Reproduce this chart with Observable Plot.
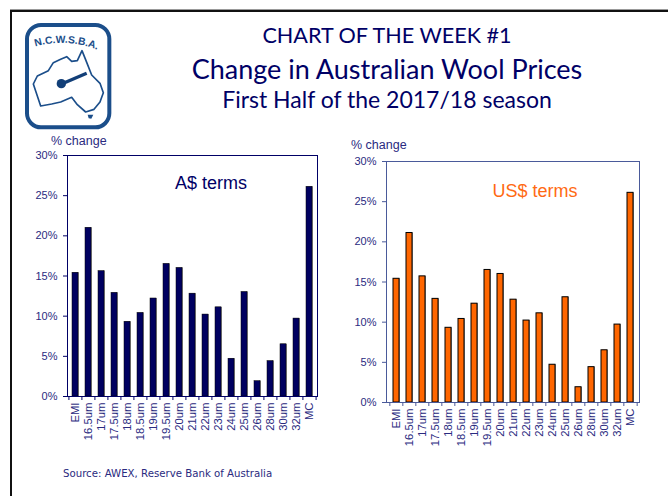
<!DOCTYPE html>
<html><head><meta charset="utf-8">
<script src="https://cdn.jsdelivr.net/npm/d3@7"></script>
<script src="https://cdn.jsdelivr.net/npm/@observablehq/plot@0.6"></script>
<style>
html,body{margin:0;padding:0;background:#fff;width:668px;height:496px;overflow:hidden}
#page{position:relative;width:668px;height:496px;overflow:hidden}
#border{position:absolute;left:10px;top:10px;width:700px;height:600px;border:2px solid #111;box-shadow:0 -1px 0 #999}
.t{position:absolute;left:0;width:774px;text-align:center;color:#000066;font-family:Lato,sans-serif;white-space:nowrap;line-height:1}
.s{position:absolute;font-family:"Liberation Sans",Arial,sans-serif;white-space:nowrap;line-height:1}
.p{position:absolute;top:0}
.p svg{display:block}
</style></head><body>
<div id="page">
<div id="border"></div>
<svg id="logo" style="position:absolute;left:20px;top:20px" width="95" height="115" viewBox="0 0 285 345">
  <rect x="21" y="15" width="247" height="307" rx="42" fill="#fff" stroke="#1b4e8a" stroke-width="12"/>
  <path id="arc" d="M46 80 Q150 50 252 98" fill="none"/>
  <text font-family="Liberation Sans,Arial,sans-serif" font-weight="bold" font-size="31" fill="#1b4e8a"><textPath href="#arc">N.C.W.S.B.A.</textPath></text>
  <path d="M40 192 L52 168 L85 152 L100 128 L122 118 L140 110 L155 124 L172 122 L186 92 L198 122 L215 165 L240 190 L250 218 L240 246 L222 268 L197 276 L172 254 L155 232 L122 246 L95 252 L62 258 L52 228 Z" fill="#fff" stroke="#1b4e8a" stroke-width="5" stroke-linejoin="round"/>
  <path d="M203 284 L220 284 L214 296 L206 295 Z" fill="#1b4e8a"/>
  <path d="M130 190 L200 160" stroke="#123f78" stroke-width="10" fill="none"/>
  <circle cx="124" cy="191" r="14" fill="#123f78"/>
</svg>
<div class="t" style="top:25px;font-size:21.6px">CHART OF THE WEEK #1</div>
<div class="t" style="top:55px;font-size:27px">Change in Australian Wool Prices</div>
<div class="t" style="top:88px;font-size:23px">First Half of the 2017/18 season</div>
<div id="left" class="p" style="left:0"></div>
<div id="right" class="p" style="left:334px"></div>
<div class="s" style="left:51px;top:135px;font-size:12.5px;color:#2a2a80">% change</div>
<div class="s" style="left:351px;top:139px;font-size:12.5px;color:#2a2a80">% change</div>
<div class="s" style="left:175px;top:174px;font-size:18px;color:#000066">A$ terms</div>
<div class="s" style="left:492.5px;top:182px;font-size:18px;color:#ff6a13">US$ terms</div>
<div class="s" style="left:63px;top:469px;font-size:10.2px;color:#2a2a80;font-family:'DejaVu Sans',Verdana,sans-serif">Source: AWEX, Reserve Bank of Australia</div>
</div>
<script>
const categories = ["EMI","16.5um","17um","17.5um","18um","18.5um","19um","19.5um","20um","21um","22um","23um","24um","25um","26um","28um","30um","32um","MC"];
const audChange = [15.4,21.0,15.6,12.9,9.3,10.4,12.2,16.5,16.0,12.8,10.2,11.1,4.7,13.0,1.9,4.4,6.5,9.7,26.1];
const usdChange = [15.4,21.1,15.7,12.9,9.3,10.4,12.3,16.5,16.0,12.8,10.2,11.1,4.7,13.1,1.9,4.4,6.5,9.7,26.1];
const yTicks = [0,5,10,15,20,25,30];

function chart(values, o){
  const rows = categories.map((c,i)=>({c, v:values[i]}));
  const W = 334, H = 450;
  const step = (W - o.ml - o.mr) / categories.length;
  return Plot.plot({
    width:W, height:H, marginLeft:o.ml, marginRight:o.mr, marginTop:o.mt, marginBottom:H-o.y0,
    style:{fontFamily:"'Liberation Sans',Arial,sans-serif", background:"transparent", overflow:"visible"},
    x:{domain:categories, paddingInner:o.pad, paddingOuter:o.pad/2, label:null},
    y:{domain:[0,30], label:null},
    marks:[
      Plot.barY(rows,{x:"c",y:"v",fill:"#8a8a8a",dx:1}),
      Plot.barY(rows,{x:"c",y:"v",fill:o.fill,stroke:"#000",strokeWidth:o.sw}),
      Plot.frame({stroke:o.axis,strokeWidth:1}),
      Plot.axisY({ticks:yTicks,tickSize:4,tickPadding:6,tickFormat:d=>d+"%",fontSize:11,color:o.axis,fill:"#2a2a80",label:null}),
      Plot.axisX({tickSize:4,text:null,dx:-step/2,color:o.axis,label:null}),
      Plot.axisX({ticks:["MC"],tickSize:4,text:null,dx:step/2,color:o.axis,label:null}),
      Plot.axisX({tickSize:0,tickPadding:6,tickRotate:-90,fontSize:11.3,fill:"#2a2a80",label:null})
    ]
  });
}
document.getElementById("left").append(chart(audChange,{ml:67,mr:17,mt:155,y0:396,pad:0.54,fill:"#000060",sw:0.5,axis:"#000066"}));
document.getElementById("right").append(chart(usdChange,{ml:52,mr:29,mt:161,y0:402,pad:0.55,fill:"#ff6600",sw:1,axis:"#4a5a9a"}));
</script>
</body></html>
